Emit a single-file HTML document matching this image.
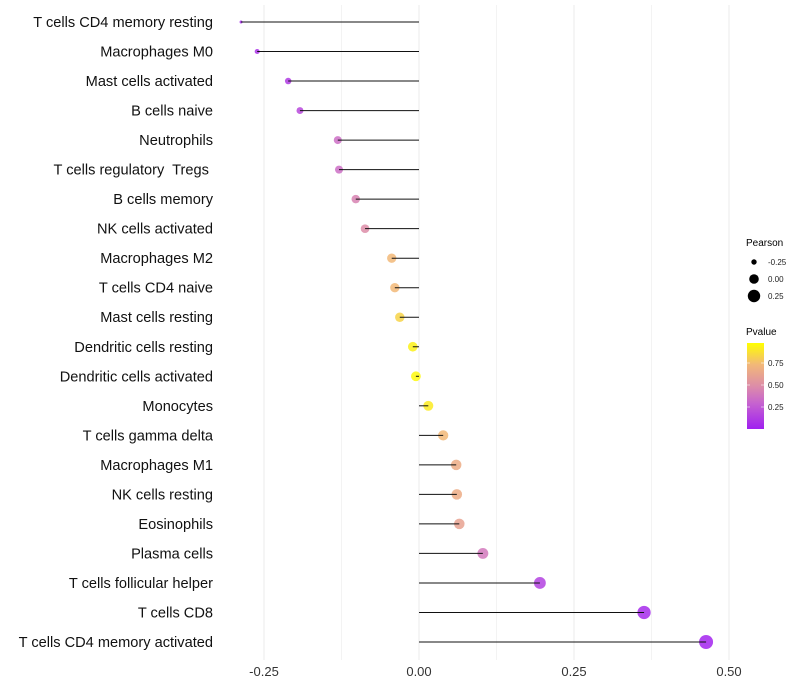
<!DOCTYPE html>
<html><head><meta charset="utf-8"><style>
body{margin:0;background:#fff;}
svg{display:block;font-family:"Liberation Sans",Arial,sans-serif;}
text{white-space:pre;}
</style></head><body>
<svg id="chart" width="800" height="700">
<defs><linearGradient id="pg" x1="0" y1="1" x2="0" y2="0">
<stop offset="0" stop-color="#A020F0"/><stop offset="0.3" stop-color="#C663CF"/>
<stop offset="0.5" stop-color="#DD8DA8"/><stop offset="0.75" stop-color="#F2B878"/>
<stop offset="1" stop-color="#FFFF00"/></linearGradient></defs>
<g id="grid"></g>
<g id="marks"></g>
<g id="ylabels"></g>
<g id="xlabels"></g>
<g>
<text x="746" y="246" font-size="10" fill="#000">Pearson</text>
<circle cx="754" cy="262" r="2.7" fill="#000"/>
<text x="768" y="265" font-size="8" fill="#222">-0.25</text>
<circle cx="754" cy="279" r="4.8" fill="#000"/>
<text x="768" y="282" font-size="8" fill="#222">0.00</text>
<circle cx="754" cy="296" r="6.2" fill="#000"/>
<text x="768" y="299" font-size="8" fill="#222">0.25</text>
</g>
<g>
<text x="746" y="335" font-size="10" fill="#000">Pvalue</text>
<rect x="747" y="343" width="17" height="86" fill="url(#pg)"/>
<g stroke="#fff" stroke-width="0.8" opacity="0.7"><line x1="747" x2="750" y1="363" y2="363"/><line x1="761" x2="764" y1="363" y2="363"/><line x1="747" x2="750" y1="385" y2="385"/><line x1="761" x2="764" y1="385" y2="385"/><line x1="747" x2="750" y1="407" y2="407"/><line x1="761" x2="764" y1="407" y2="407"/></g>
<text x="768" y="366" font-size="8" fill="#222">0.75</text>
<text x="768" y="388" font-size="8" fill="#222">0.50</text>
<text x="768" y="410" font-size="8" fill="#222">0.25</text>
</g>
</svg>
<script>
const categories=["T cells CD4 memory resting","Macrophages M0","Mast cells activated","B cells naive","Neutrophils","T cells regulatory  Tregs ","B cells memory","NK cells activated","Macrophages M2","T cells CD4 naive","Mast cells resting","Dendritic cells resting","Dendritic cells activated","Monocytes","T cells gamma delta","Macrophages M1","NK cells resting","Eosinophils","Plasma cells","T cells follicular helper","T cells CD8","T cells CD4 memory activated"];
const pearson=[-0.287,-0.261,-0.211,-0.192,-0.131,-0.129,-0.102,-0.087,-0.044,-0.039,-0.031,-0.010,-0.005,0.015,0.039,0.060,0.061,0.065,0.103,0.195,0.363,0.463];
const pvalues=[0.04,0.08,0.12,0.18,0.35,0.35,0.45,0.5,0.75,0.75,0.85,0.95,0.98,0.93,0.75,0.68,0.68,0.62,0.4,0.15,0.05,0.02];
const xTicks=[-0.25,0,0.25,0.5];
const xTickLabels=["-0.25","0.00","0.25","0.50"];
const NS="http://www.w3.org/2000/svg";
const x=v=>419+v*620;
const y=i=>22+i*(620/21);
const pmin=Math.min(...pearson),pmax=Math.max(...pearson);
const rr=v=>1.5+5.5*Math.sqrt(Math.max(0,(v-pmin)/((pmax-pmin)||1)));
const stops=[[0,[160,32,240]],[0.3,[198,99,207]],[0.5,[221,141,168]],[0.75,[242,184,120]],[1,[255,255,0]]];
function col(p){for(let k=1;k<stops.length;k++){if(p<=stops[k][0]){const a=stops[k-1],b=stops[k],t=(p-a[0])/(b[0]-a[0]);return "rgb("+a[1].map((c,j)=>Math.round(c+(b[1][j]-c)*t)).join(",")+")";}}return "rgb(255,255,0)";}
function mk(tag,at,parent){const e=document.createElementNS(NS,tag);for(const k in at)e.setAttribute(k,at[k]);document.getElementById(parent).appendChild(e);return e;}
for(let v=-0.25;v<=0.5001;v+=0.125){const l=mk("line",{x1:x(v),x2:x(v),y1:5,y2:660,stroke:"#ebebeb","stroke-width":Math.abs(v/0.25-Math.round(v/0.25))<1e-6?1:0.6},"grid");

}
categories.forEach((c,i)=>{
const pt=mk("circle",{cx:x(pearson[i]),cy:y(i),r:rr(pearson[i]),fill:col(pvalues[i]),"fill-opacity":0.85},"marks");


const ln=mk("line",{x1:x(0),x2:x(pearson[i]),y1:y(i),y2:y(i),stroke:"#111","stroke-width":1},"marks");


const t=mk("text",{x:213,y:y(i)+5,"text-anchor":"end","font-size":14.6,fill:"#111"},"ylabels");
t.textContent=c;


});
xTicks.forEach((v,k)=>{const t=mk("text",{x:x(v),y:676,"text-anchor":"middle","font-size":13,fill:"#333"},"xlabels");
t.textContent=xTickLabels[k];

});
</script>
</body></html>
